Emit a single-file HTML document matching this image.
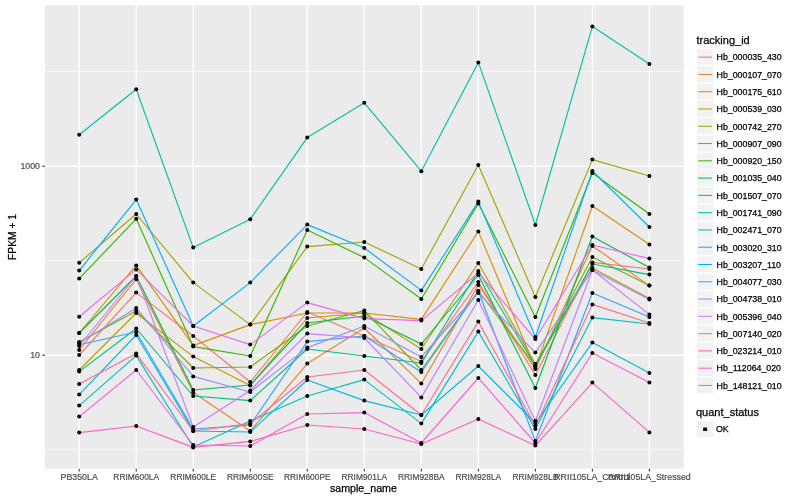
<!DOCTYPE html><html><head><meta charset="utf-8"><style>html,body{margin:0;padding:0;background:#fff;}svg{display:block;will-change:transform;}text{font-family:"Liberation Sans",sans-serif;}.d{stroke:#000;stroke-width:0.25px;}.g{stroke:#4D4D4D;stroke-width:0.2px;}</style></head><body>
<svg width="800" height="500" viewBox="0 0 800 500">
<rect x="0" y="0" width="800" height="500" fill="#fff"/>
<rect x="45.0" y="5.2" width="638.80" height="463.60" fill="#EBEBEB"/>
<line x1="45.0" y1="71.70" x2="683.8" y2="71.70" stroke="#fff" stroke-width="0.71"/>
<line x1="45.0" y1="260.70" x2="683.8" y2="260.70" stroke="#fff" stroke-width="0.71"/>
<line x1="45.0" y1="449.70" x2="683.8" y2="449.70" stroke="#fff" stroke-width="0.71"/>
<line x1="45.0" y1="166.20" x2="683.8" y2="166.20" stroke="#fff" stroke-width="1.42"/>
<line x1="45.0" y1="355.20" x2="683.8" y2="355.20" stroke="#fff" stroke-width="1.42"/>
<line x1="79.20" y1="5.2" x2="79.20" y2="468.8" stroke="#fff" stroke-width="1.42"/>
<line x1="136.22" y1="5.2" x2="136.22" y2="468.8" stroke="#fff" stroke-width="1.42"/>
<line x1="193.24" y1="5.2" x2="193.24" y2="468.8" stroke="#fff" stroke-width="1.42"/>
<line x1="250.26" y1="5.2" x2="250.26" y2="468.8" stroke="#fff" stroke-width="1.42"/>
<line x1="307.28" y1="5.2" x2="307.28" y2="468.8" stroke="#fff" stroke-width="1.42"/>
<line x1="364.30" y1="5.2" x2="364.30" y2="468.8" stroke="#fff" stroke-width="1.42"/>
<line x1="421.32" y1="5.2" x2="421.32" y2="468.8" stroke="#fff" stroke-width="1.42"/>
<line x1="478.34" y1="5.2" x2="478.34" y2="468.8" stroke="#fff" stroke-width="1.42"/>
<line x1="535.36" y1="5.2" x2="535.36" y2="468.8" stroke="#fff" stroke-width="1.42"/>
<line x1="592.38" y1="5.2" x2="592.38" y2="468.8" stroke="#fff" stroke-width="1.42"/>
<line x1="649.40" y1="5.2" x2="649.40" y2="468.8" stroke="#fff" stroke-width="1.42"/>
<polyline points="79.20,355.00 136.22,292.60 193.24,336.00 250.26,382.00 307.28,312.00 364.30,336.00 421.32,361.60 478.34,282.00 535.36,375.00 592.38,262.40 649.40,269.00" fill="none" stroke="#F8766D" stroke-width="1.15" stroke-linejoin="round"/>
<polyline points="79.20,350.00 136.22,279.20 193.24,392.50 250.26,431.00 307.28,363.60 364.30,328.00 421.32,383.60 478.34,285.00 535.36,369.00 592.38,246.00 649.40,285.60" fill="none" stroke="#EA8331" stroke-width="1.15" stroke-linejoin="round"/>
<polyline points="79.20,333.00 136.22,265.40 193.24,345.60 250.26,324.60 307.28,313.00 364.30,313.00 421.32,319.40 478.34,231.40 535.36,368.00 592.38,206.00 649.40,244.60" fill="none" stroke="#D89000" stroke-width="1.15" stroke-linejoin="round"/>
<polyline points="79.20,370.00 136.22,313.00 193.24,356.60 250.26,385.60 307.28,318.00 364.30,313.00 421.32,349.00 478.34,263.00 535.36,364.00 592.38,268.00 649.40,298.60" fill="none" stroke="#C09B00" stroke-width="1.15" stroke-linejoin="round"/>
<polyline points="79.20,262.80 136.22,214.00 193.24,282.60 250.26,324.60 307.28,246.60 364.30,242.00 421.32,269.00 478.34,165.00 535.36,297.00 592.38,159.60 649.40,176.00" fill="none" stroke="#A3A500" stroke-width="1.15" stroke-linejoin="round"/>
<polyline points="79.20,342.00 136.22,311.00 193.24,368.00 250.26,367.00 307.28,326.00 364.30,310.60 421.32,370.00 478.34,291.00 535.36,366.00 592.38,257.00 649.40,285.60" fill="none" stroke="#7CAE00" stroke-width="1.15" stroke-linejoin="round"/>
<polyline points="79.20,278.60 136.22,218.80 193.24,346.60 250.26,356.00 307.28,230.00 364.30,257.60 421.32,299.00 478.34,203.40 535.36,317.00 592.38,173.00 649.40,214.00" fill="none" stroke="#39B600" stroke-width="1.15" stroke-linejoin="round"/>
<polyline points="79.20,333.00 136.22,276.00 193.24,390.00 250.26,385.00 307.28,323.00 364.30,316.00 421.32,344.00 478.34,275.00 535.36,388.00 592.38,236.50 649.40,267.60" fill="none" stroke="#00BB4E" stroke-width="1.15" stroke-linejoin="round"/>
<polyline points="79.20,371.60 136.22,328.50 193.24,396.00 250.26,400.60 307.28,349.00 364.30,356.00 421.32,363.00 478.34,271.00 535.36,366.00 592.38,264.00 649.40,274.60" fill="none" stroke="#00BF7D" stroke-width="1.15" stroke-linejoin="round"/>
<polyline points="79.20,134.80 136.22,89.20 193.24,247.60 250.26,219.20 307.28,137.60 364.30,102.80 421.32,171.20 478.34,62.40 535.36,225.00 592.38,26.40 649.40,64.00" fill="none" stroke="#00C1A3" stroke-width="1.15" stroke-linejoin="round"/>
<polyline points="79.20,405.60 136.22,355.60 193.24,447.00 250.26,421.00 307.28,396.00 364.30,379.60 421.32,423.60 478.34,331.60 535.36,429.00 592.38,317.60 649.40,324.00" fill="none" stroke="#00BFC4" stroke-width="1.15" stroke-linejoin="round"/>
<polyline points="79.20,394.60 136.22,335.00 193.24,431.00 250.26,432.00 307.28,380.00 364.30,400.60 421.32,415.00 478.34,366.00 535.36,423.00 592.38,342.60 649.40,373.00" fill="none" stroke="#00BAE0" stroke-width="1.15" stroke-linejoin="round"/>
<polyline points="79.20,270.60 136.22,199.60 193.24,326.00 250.26,282.60 307.28,224.60 364.30,248.00 421.32,290.40 478.34,201.60 535.36,337.00 592.38,171.00 649.40,227.00" fill="none" stroke="#00B0F6" stroke-width="1.15" stroke-linejoin="round"/>
<polyline points="79.20,344.80 136.22,332.00 193.24,429.00 250.26,425.00 307.28,341.60 364.30,336.00 421.32,372.00 478.34,291.00 535.36,441.00 592.38,293.00 649.40,317.00" fill="none" stroke="#35A2FF" stroke-width="1.15" stroke-linejoin="round"/>
<polyline points="79.20,343.00 136.22,308.00 193.24,376.40 250.26,392.00 307.28,347.60 364.30,326.00 421.32,357.00 478.34,293.00 535.36,352.60 592.38,270.00 649.40,299.60" fill="none" stroke="#9590FF" stroke-width="1.15" stroke-linejoin="round"/>
<polyline points="79.20,346.00 136.22,276.00 193.24,427.00 250.26,390.40 307.28,333.60 364.30,338.00 421.32,397.40 478.34,300.00 535.36,421.00 592.38,270.00 649.40,314.40" fill="none" stroke="#C77CFF" stroke-width="1.15" stroke-linejoin="round"/>
<polyline points="79.20,316.80 136.22,269.40 193.24,326.00 250.26,344.60 307.28,302.60 364.30,318.60 421.32,320.60 478.34,273.00 535.36,339.00 592.38,245.00 649.40,258.60" fill="none" stroke="#E76BF3" stroke-width="1.15" stroke-linejoin="round"/>
<polyline points="79.20,416.60 136.22,370.00 193.24,445.00 250.26,446.00 307.28,414.00 364.30,412.60 421.32,443.00 478.34,378.00 535.36,443.00 592.38,353.00 649.40,382.60" fill="none" stroke="#FA62DB" stroke-width="1.15" stroke-linejoin="round"/>
<polyline points="79.20,432.60 136.22,426.00 193.24,447.40 250.26,441.40 307.28,425.00 364.30,429.00 421.32,444.00 478.34,419.00 535.36,445.60 592.38,382.60 649.40,432.40" fill="none" stroke="#FF62BC" stroke-width="1.15" stroke-linejoin="round"/>
<polyline points="79.20,384.00 136.22,353.60 193.24,431.00 250.26,423.60 307.28,377.00 364.30,370.00 421.32,415.00 478.34,321.60 535.36,426.00 592.38,304.40 649.40,323.00" fill="none" stroke="#FF6C91" stroke-width="1.15" stroke-linejoin="round"/>
<circle cx="79.20" cy="355.00" r="2.0" fill="#000"/>
<circle cx="136.22" cy="292.60" r="2.0" fill="#000"/>
<circle cx="193.24" cy="336.00" r="2.0" fill="#000"/>
<circle cx="250.26" cy="382.00" r="2.0" fill="#000"/>
<circle cx="307.28" cy="312.00" r="2.0" fill="#000"/>
<circle cx="364.30" cy="336.00" r="2.0" fill="#000"/>
<circle cx="421.32" cy="361.60" r="2.0" fill="#000"/>
<circle cx="478.34" cy="282.00" r="2.0" fill="#000"/>
<circle cx="535.36" cy="375.00" r="2.0" fill="#000"/>
<circle cx="592.38" cy="262.40" r="2.0" fill="#000"/>
<circle cx="649.40" cy="269.00" r="2.0" fill="#000"/>
<circle cx="79.20" cy="350.00" r="2.0" fill="#000"/>
<circle cx="136.22" cy="279.20" r="2.0" fill="#000"/>
<circle cx="193.24" cy="392.50" r="2.0" fill="#000"/>
<circle cx="250.26" cy="431.00" r="2.0" fill="#000"/>
<circle cx="307.28" cy="363.60" r="2.0" fill="#000"/>
<circle cx="364.30" cy="328.00" r="2.0" fill="#000"/>
<circle cx="421.32" cy="383.60" r="2.0" fill="#000"/>
<circle cx="478.34" cy="285.00" r="2.0" fill="#000"/>
<circle cx="535.36" cy="369.00" r="2.0" fill="#000"/>
<circle cx="592.38" cy="246.00" r="2.0" fill="#000"/>
<circle cx="649.40" cy="285.60" r="2.0" fill="#000"/>
<circle cx="79.20" cy="333.00" r="2.0" fill="#000"/>
<circle cx="136.22" cy="265.40" r="2.0" fill="#000"/>
<circle cx="193.24" cy="345.60" r="2.0" fill="#000"/>
<circle cx="250.26" cy="324.60" r="2.0" fill="#000"/>
<circle cx="307.28" cy="313.00" r="2.0" fill="#000"/>
<circle cx="364.30" cy="313.00" r="2.0" fill="#000"/>
<circle cx="421.32" cy="319.40" r="2.0" fill="#000"/>
<circle cx="478.34" cy="231.40" r="2.0" fill="#000"/>
<circle cx="535.36" cy="368.00" r="2.0" fill="#000"/>
<circle cx="592.38" cy="206.00" r="2.0" fill="#000"/>
<circle cx="649.40" cy="244.60" r="2.0" fill="#000"/>
<circle cx="79.20" cy="370.00" r="2.0" fill="#000"/>
<circle cx="136.22" cy="313.00" r="2.0" fill="#000"/>
<circle cx="193.24" cy="356.60" r="2.0" fill="#000"/>
<circle cx="250.26" cy="385.60" r="2.0" fill="#000"/>
<circle cx="307.28" cy="318.00" r="2.0" fill="#000"/>
<circle cx="364.30" cy="313.00" r="2.0" fill="#000"/>
<circle cx="421.32" cy="349.00" r="2.0" fill="#000"/>
<circle cx="478.34" cy="263.00" r="2.0" fill="#000"/>
<circle cx="535.36" cy="364.00" r="2.0" fill="#000"/>
<circle cx="592.38" cy="268.00" r="2.0" fill="#000"/>
<circle cx="649.40" cy="298.60" r="2.0" fill="#000"/>
<circle cx="79.20" cy="262.80" r="2.0" fill="#000"/>
<circle cx="136.22" cy="214.00" r="2.0" fill="#000"/>
<circle cx="193.24" cy="282.60" r="2.0" fill="#000"/>
<circle cx="250.26" cy="324.60" r="2.0" fill="#000"/>
<circle cx="307.28" cy="246.60" r="2.0" fill="#000"/>
<circle cx="364.30" cy="242.00" r="2.0" fill="#000"/>
<circle cx="421.32" cy="269.00" r="2.0" fill="#000"/>
<circle cx="478.34" cy="165.00" r="2.0" fill="#000"/>
<circle cx="535.36" cy="297.00" r="2.0" fill="#000"/>
<circle cx="592.38" cy="159.60" r="2.0" fill="#000"/>
<circle cx="649.40" cy="176.00" r="2.0" fill="#000"/>
<circle cx="79.20" cy="342.00" r="2.0" fill="#000"/>
<circle cx="136.22" cy="311.00" r="2.0" fill="#000"/>
<circle cx="193.24" cy="368.00" r="2.0" fill="#000"/>
<circle cx="250.26" cy="367.00" r="2.0" fill="#000"/>
<circle cx="307.28" cy="326.00" r="2.0" fill="#000"/>
<circle cx="364.30" cy="310.60" r="2.0" fill="#000"/>
<circle cx="421.32" cy="370.00" r="2.0" fill="#000"/>
<circle cx="478.34" cy="291.00" r="2.0" fill="#000"/>
<circle cx="535.36" cy="366.00" r="2.0" fill="#000"/>
<circle cx="592.38" cy="257.00" r="2.0" fill="#000"/>
<circle cx="649.40" cy="285.60" r="2.0" fill="#000"/>
<circle cx="79.20" cy="278.60" r="2.0" fill="#000"/>
<circle cx="136.22" cy="218.80" r="2.0" fill="#000"/>
<circle cx="193.24" cy="346.60" r="2.0" fill="#000"/>
<circle cx="250.26" cy="356.00" r="2.0" fill="#000"/>
<circle cx="307.28" cy="230.00" r="2.0" fill="#000"/>
<circle cx="364.30" cy="257.60" r="2.0" fill="#000"/>
<circle cx="421.32" cy="299.00" r="2.0" fill="#000"/>
<circle cx="478.34" cy="203.40" r="2.0" fill="#000"/>
<circle cx="535.36" cy="317.00" r="2.0" fill="#000"/>
<circle cx="592.38" cy="173.00" r="2.0" fill="#000"/>
<circle cx="649.40" cy="214.00" r="2.0" fill="#000"/>
<circle cx="79.20" cy="333.00" r="2.0" fill="#000"/>
<circle cx="136.22" cy="276.00" r="2.0" fill="#000"/>
<circle cx="193.24" cy="390.00" r="2.0" fill="#000"/>
<circle cx="250.26" cy="385.00" r="2.0" fill="#000"/>
<circle cx="307.28" cy="323.00" r="2.0" fill="#000"/>
<circle cx="364.30" cy="316.00" r="2.0" fill="#000"/>
<circle cx="421.32" cy="344.00" r="2.0" fill="#000"/>
<circle cx="478.34" cy="275.00" r="2.0" fill="#000"/>
<circle cx="535.36" cy="388.00" r="2.0" fill="#000"/>
<circle cx="592.38" cy="236.50" r="2.0" fill="#000"/>
<circle cx="649.40" cy="267.60" r="2.0" fill="#000"/>
<circle cx="79.20" cy="371.60" r="2.0" fill="#000"/>
<circle cx="136.22" cy="328.50" r="2.0" fill="#000"/>
<circle cx="193.24" cy="396.00" r="2.0" fill="#000"/>
<circle cx="250.26" cy="400.60" r="2.0" fill="#000"/>
<circle cx="307.28" cy="349.00" r="2.0" fill="#000"/>
<circle cx="364.30" cy="356.00" r="2.0" fill="#000"/>
<circle cx="421.32" cy="363.00" r="2.0" fill="#000"/>
<circle cx="478.34" cy="271.00" r="2.0" fill="#000"/>
<circle cx="535.36" cy="366.00" r="2.0" fill="#000"/>
<circle cx="592.38" cy="264.00" r="2.0" fill="#000"/>
<circle cx="649.40" cy="274.60" r="2.0" fill="#000"/>
<circle cx="79.20" cy="134.80" r="2.0" fill="#000"/>
<circle cx="136.22" cy="89.20" r="2.0" fill="#000"/>
<circle cx="193.24" cy="247.60" r="2.0" fill="#000"/>
<circle cx="250.26" cy="219.20" r="2.0" fill="#000"/>
<circle cx="307.28" cy="137.60" r="2.0" fill="#000"/>
<circle cx="364.30" cy="102.80" r="2.0" fill="#000"/>
<circle cx="421.32" cy="171.20" r="2.0" fill="#000"/>
<circle cx="478.34" cy="62.40" r="2.0" fill="#000"/>
<circle cx="535.36" cy="225.00" r="2.0" fill="#000"/>
<circle cx="592.38" cy="26.40" r="2.0" fill="#000"/>
<circle cx="649.40" cy="64.00" r="2.0" fill="#000"/>
<circle cx="79.20" cy="405.60" r="2.0" fill="#000"/>
<circle cx="136.22" cy="355.60" r="2.0" fill="#000"/>
<circle cx="193.24" cy="447.00" r="2.0" fill="#000"/>
<circle cx="250.26" cy="421.00" r="2.0" fill="#000"/>
<circle cx="307.28" cy="396.00" r="2.0" fill="#000"/>
<circle cx="364.30" cy="379.60" r="2.0" fill="#000"/>
<circle cx="421.32" cy="423.60" r="2.0" fill="#000"/>
<circle cx="478.34" cy="331.60" r="2.0" fill="#000"/>
<circle cx="535.36" cy="429.00" r="2.0" fill="#000"/>
<circle cx="592.38" cy="317.60" r="2.0" fill="#000"/>
<circle cx="649.40" cy="324.00" r="2.0" fill="#000"/>
<circle cx="79.20" cy="394.60" r="2.0" fill="#000"/>
<circle cx="136.22" cy="335.00" r="2.0" fill="#000"/>
<circle cx="193.24" cy="431.00" r="2.0" fill="#000"/>
<circle cx="250.26" cy="432.00" r="2.0" fill="#000"/>
<circle cx="307.28" cy="380.00" r="2.0" fill="#000"/>
<circle cx="364.30" cy="400.60" r="2.0" fill="#000"/>
<circle cx="421.32" cy="415.00" r="2.0" fill="#000"/>
<circle cx="478.34" cy="366.00" r="2.0" fill="#000"/>
<circle cx="535.36" cy="423.00" r="2.0" fill="#000"/>
<circle cx="592.38" cy="342.60" r="2.0" fill="#000"/>
<circle cx="649.40" cy="373.00" r="2.0" fill="#000"/>
<circle cx="79.20" cy="270.60" r="2.0" fill="#000"/>
<circle cx="136.22" cy="199.60" r="2.0" fill="#000"/>
<circle cx="193.24" cy="326.00" r="2.0" fill="#000"/>
<circle cx="250.26" cy="282.60" r="2.0" fill="#000"/>
<circle cx="307.28" cy="224.60" r="2.0" fill="#000"/>
<circle cx="364.30" cy="248.00" r="2.0" fill="#000"/>
<circle cx="421.32" cy="290.40" r="2.0" fill="#000"/>
<circle cx="478.34" cy="201.60" r="2.0" fill="#000"/>
<circle cx="535.36" cy="337.00" r="2.0" fill="#000"/>
<circle cx="592.38" cy="171.00" r="2.0" fill="#000"/>
<circle cx="649.40" cy="227.00" r="2.0" fill="#000"/>
<circle cx="79.20" cy="344.80" r="2.0" fill="#000"/>
<circle cx="136.22" cy="332.00" r="2.0" fill="#000"/>
<circle cx="193.24" cy="429.00" r="2.0" fill="#000"/>
<circle cx="250.26" cy="425.00" r="2.0" fill="#000"/>
<circle cx="307.28" cy="341.60" r="2.0" fill="#000"/>
<circle cx="364.30" cy="336.00" r="2.0" fill="#000"/>
<circle cx="421.32" cy="372.00" r="2.0" fill="#000"/>
<circle cx="478.34" cy="291.00" r="2.0" fill="#000"/>
<circle cx="535.36" cy="441.00" r="2.0" fill="#000"/>
<circle cx="592.38" cy="293.00" r="2.0" fill="#000"/>
<circle cx="649.40" cy="317.00" r="2.0" fill="#000"/>
<circle cx="79.20" cy="343.00" r="2.0" fill="#000"/>
<circle cx="136.22" cy="308.00" r="2.0" fill="#000"/>
<circle cx="193.24" cy="376.40" r="2.0" fill="#000"/>
<circle cx="250.26" cy="392.00" r="2.0" fill="#000"/>
<circle cx="307.28" cy="347.60" r="2.0" fill="#000"/>
<circle cx="364.30" cy="326.00" r="2.0" fill="#000"/>
<circle cx="421.32" cy="357.00" r="2.0" fill="#000"/>
<circle cx="478.34" cy="293.00" r="2.0" fill="#000"/>
<circle cx="535.36" cy="352.60" r="2.0" fill="#000"/>
<circle cx="592.38" cy="270.00" r="2.0" fill="#000"/>
<circle cx="649.40" cy="299.60" r="2.0" fill="#000"/>
<circle cx="79.20" cy="346.00" r="2.0" fill="#000"/>
<circle cx="136.22" cy="276.00" r="2.0" fill="#000"/>
<circle cx="193.24" cy="427.00" r="2.0" fill="#000"/>
<circle cx="250.26" cy="390.40" r="2.0" fill="#000"/>
<circle cx="307.28" cy="333.60" r="2.0" fill="#000"/>
<circle cx="364.30" cy="338.00" r="2.0" fill="#000"/>
<circle cx="421.32" cy="397.40" r="2.0" fill="#000"/>
<circle cx="478.34" cy="300.00" r="2.0" fill="#000"/>
<circle cx="535.36" cy="421.00" r="2.0" fill="#000"/>
<circle cx="592.38" cy="270.00" r="2.0" fill="#000"/>
<circle cx="649.40" cy="314.40" r="2.0" fill="#000"/>
<circle cx="79.20" cy="316.80" r="2.0" fill="#000"/>
<circle cx="136.22" cy="269.40" r="2.0" fill="#000"/>
<circle cx="193.24" cy="326.00" r="2.0" fill="#000"/>
<circle cx="250.26" cy="344.60" r="2.0" fill="#000"/>
<circle cx="307.28" cy="302.60" r="2.0" fill="#000"/>
<circle cx="364.30" cy="318.60" r="2.0" fill="#000"/>
<circle cx="421.32" cy="320.60" r="2.0" fill="#000"/>
<circle cx="478.34" cy="273.00" r="2.0" fill="#000"/>
<circle cx="535.36" cy="339.00" r="2.0" fill="#000"/>
<circle cx="592.38" cy="245.00" r="2.0" fill="#000"/>
<circle cx="649.40" cy="258.60" r="2.0" fill="#000"/>
<circle cx="79.20" cy="416.60" r="2.0" fill="#000"/>
<circle cx="136.22" cy="370.00" r="2.0" fill="#000"/>
<circle cx="193.24" cy="445.00" r="2.0" fill="#000"/>
<circle cx="250.26" cy="446.00" r="2.0" fill="#000"/>
<circle cx="307.28" cy="414.00" r="2.0" fill="#000"/>
<circle cx="364.30" cy="412.60" r="2.0" fill="#000"/>
<circle cx="421.32" cy="443.00" r="2.0" fill="#000"/>
<circle cx="478.34" cy="378.00" r="2.0" fill="#000"/>
<circle cx="535.36" cy="443.00" r="2.0" fill="#000"/>
<circle cx="592.38" cy="353.00" r="2.0" fill="#000"/>
<circle cx="649.40" cy="382.60" r="2.0" fill="#000"/>
<circle cx="79.20" cy="432.60" r="2.0" fill="#000"/>
<circle cx="136.22" cy="426.00" r="2.0" fill="#000"/>
<circle cx="193.24" cy="447.40" r="2.0" fill="#000"/>
<circle cx="250.26" cy="441.40" r="2.0" fill="#000"/>
<circle cx="307.28" cy="425.00" r="2.0" fill="#000"/>
<circle cx="364.30" cy="429.00" r="2.0" fill="#000"/>
<circle cx="421.32" cy="444.00" r="2.0" fill="#000"/>
<circle cx="478.34" cy="419.00" r="2.0" fill="#000"/>
<circle cx="535.36" cy="445.60" r="2.0" fill="#000"/>
<circle cx="592.38" cy="382.60" r="2.0" fill="#000"/>
<circle cx="649.40" cy="432.40" r="2.0" fill="#000"/>
<circle cx="79.20" cy="384.00" r="2.0" fill="#000"/>
<circle cx="136.22" cy="353.60" r="2.0" fill="#000"/>
<circle cx="193.24" cy="431.00" r="2.0" fill="#000"/>
<circle cx="250.26" cy="423.60" r="2.0" fill="#000"/>
<circle cx="307.28" cy="377.00" r="2.0" fill="#000"/>
<circle cx="364.30" cy="370.00" r="2.0" fill="#000"/>
<circle cx="421.32" cy="415.00" r="2.0" fill="#000"/>
<circle cx="478.34" cy="321.60" r="2.0" fill="#000"/>
<circle cx="535.36" cy="426.00" r="2.0" fill="#000"/>
<circle cx="592.38" cy="304.40" r="2.0" fill="#000"/>
<circle cx="649.40" cy="323.00" r="2.0" fill="#000"/>
<line x1="79.20" y1="468.8" x2="79.20" y2="471.54" stroke="#333" stroke-width="1.07"/>
<line x1="136.22" y1="468.8" x2="136.22" y2="471.54" stroke="#333" stroke-width="1.07"/>
<line x1="193.24" y1="468.8" x2="193.24" y2="471.54" stroke="#333" stroke-width="1.07"/>
<line x1="250.26" y1="468.8" x2="250.26" y2="471.54" stroke="#333" stroke-width="1.07"/>
<line x1="307.28" y1="468.8" x2="307.28" y2="471.54" stroke="#333" stroke-width="1.07"/>
<line x1="364.30" y1="468.8" x2="364.30" y2="471.54" stroke="#333" stroke-width="1.07"/>
<line x1="421.32" y1="468.8" x2="421.32" y2="471.54" stroke="#333" stroke-width="1.07"/>
<line x1="478.34" y1="468.8" x2="478.34" y2="471.54" stroke="#333" stroke-width="1.07"/>
<line x1="535.36" y1="468.8" x2="535.36" y2="471.54" stroke="#333" stroke-width="1.07"/>
<line x1="592.38" y1="468.8" x2="592.38" y2="471.54" stroke="#333" stroke-width="1.07"/>
<line x1="649.40" y1="468.8" x2="649.40" y2="471.54" stroke="#333" stroke-width="1.07"/>
<line x1="42.26" y1="166.20" x2="45.0" y2="166.20" stroke="#333" stroke-width="1.07"/>
<line x1="42.26" y1="355.20" x2="45.0" y2="355.20" stroke="#333" stroke-width="1.07"/>
<text x="79.20" y="480" font-size="8.8" fill="#4D4D4D" text-anchor="middle" class="g">PB350LA</text>
<text x="136.22" y="480" font-size="8.8" fill="#4D4D4D" text-anchor="middle" class="g" textLength="45.78" lengthAdjust="spacingAndGlyphs">RRIM600LA</text>
<text x="193.24" y="480" font-size="8.8" fill="#4D4D4D" text-anchor="middle" class="g" textLength="45.78" lengthAdjust="spacingAndGlyphs">RRIM600LE</text>
<text x="250.26" y="480" font-size="8.8" fill="#4D4D4D" text-anchor="middle" class="g" textLength="46.71" lengthAdjust="spacingAndGlyphs">RRIM600SE</text>
<text x="307.28" y="480" font-size="8.8" fill="#4D4D4D" text-anchor="middle" class="g" textLength="46.71" lengthAdjust="spacingAndGlyphs">RRIM600PE</text>
<text x="364.30" y="480" font-size="8.8" fill="#4D4D4D" text-anchor="middle" class="g" textLength="45.78" lengthAdjust="spacingAndGlyphs">RRIM901LA</text>
<text x="421.32" y="480" font-size="8.8" fill="#4D4D4D" text-anchor="middle" class="g" textLength="46.71" lengthAdjust="spacingAndGlyphs">RRIM928BA</text>
<text x="478.34" y="480" font-size="8.8" fill="#4D4D4D" text-anchor="middle" class="g" textLength="45.78" lengthAdjust="spacingAndGlyphs">RRIM928LA</text>
<text x="535.36" y="480" font-size="8.8" fill="#4D4D4D" text-anchor="middle" class="g" textLength="45.78" lengthAdjust="spacingAndGlyphs">RRIM928LB</text>
<text x="592.38" y="480" font-size="8.8" fill="#4D4D4D" text-anchor="middle" class="g">RRII105LA_Control</text>
<text x="649.40" y="480" font-size="8.8" fill="#4D4D4D" text-anchor="middle" class="g">RRII105LA_Stressed</text>
<text x="40" y="169.30" font-size="8.8" fill="#4D4D4D" text-anchor="end" class="g">1000</text>
<text x="40" y="358.30" font-size="8.8" fill="#4D4D4D" text-anchor="end" class="g">10</text>
<text x="363.4" y="491.8" font-size="11" fill="#000" text-anchor="middle" class="d" textLength="67" lengthAdjust="spacingAndGlyphs">sample_name</text>
<text transform="translate(16.3,237.00) rotate(-90)" x="0" y="0" font-size="11" fill="#000" text-anchor="middle" class="d" textLength="45.8" lengthAdjust="spacingAndGlyphs">FPKM + 1</text>
<text x="696.5" y="43.7" font-size="11" fill="#000" class="d">tracking_id</text>
<rect x="696.50" y="48.50" width="17.28" height="17.28" fill="#F2F2F2" stroke="#fff" stroke-width="1.07"/>
<line x1="698.23" y1="57.14" x2="712.05" y2="57.14" stroke="#F8766D" stroke-width="1.05"/>
<text x="716.6" y="60.44" font-size="8.8" fill="#000" class="d">Hb_000035_430</text>
<rect x="696.50" y="65.78" width="17.28" height="17.28" fill="#F2F2F2" stroke="#fff" stroke-width="1.07"/>
<line x1="698.23" y1="74.42" x2="712.05" y2="74.42" stroke="#EA8331" stroke-width="1.05"/>
<text x="716.6" y="77.72" font-size="8.8" fill="#000" class="d">Hb_000107_070</text>
<rect x="696.50" y="83.06" width="17.28" height="17.28" fill="#F2F2F2" stroke="#fff" stroke-width="1.07"/>
<line x1="698.23" y1="91.70" x2="712.05" y2="91.70" stroke="#D89000" stroke-width="1.05"/>
<text x="716.6" y="95.00" font-size="8.8" fill="#000" class="d">Hb_000175_610</text>
<rect x="696.50" y="100.34" width="17.28" height="17.28" fill="#F2F2F2" stroke="#fff" stroke-width="1.07"/>
<line x1="698.23" y1="108.98" x2="712.05" y2="108.98" stroke="#C09B00" stroke-width="1.05"/>
<text x="716.6" y="112.28" font-size="8.8" fill="#000" class="d">Hb_000539_030</text>
<rect x="696.50" y="117.62" width="17.28" height="17.28" fill="#F2F2F2" stroke="#fff" stroke-width="1.07"/>
<line x1="698.23" y1="126.26" x2="712.05" y2="126.26" stroke="#A3A500" stroke-width="1.05"/>
<text x="716.6" y="129.56" font-size="8.8" fill="#000" class="d">Hb_000742_270</text>
<rect x="696.50" y="134.90" width="17.28" height="17.28" fill="#F2F2F2" stroke="#fff" stroke-width="1.07"/>
<line x1="698.23" y1="143.54" x2="712.05" y2="143.54" stroke="#7CAE00" stroke-width="1.05"/>
<text x="716.6" y="146.84" font-size="8.8" fill="#000" class="d">Hb_000907_090</text>
<rect x="696.50" y="152.18" width="17.28" height="17.28" fill="#F2F2F2" stroke="#fff" stroke-width="1.07"/>
<line x1="698.23" y1="160.82" x2="712.05" y2="160.82" stroke="#39B600" stroke-width="1.05"/>
<text x="716.6" y="164.12" font-size="8.8" fill="#000" class="d">Hb_000920_150</text>
<rect x="696.50" y="169.46" width="17.28" height="17.28" fill="#F2F2F2" stroke="#fff" stroke-width="1.07"/>
<line x1="698.23" y1="178.10" x2="712.05" y2="178.10" stroke="#00BB4E" stroke-width="1.05"/>
<text x="716.6" y="181.40" font-size="8.8" fill="#000" class="d">Hb_001035_040</text>
<rect x="696.50" y="186.74" width="17.28" height="17.28" fill="#F2F2F2" stroke="#fff" stroke-width="1.07"/>
<line x1="698.23" y1="195.38" x2="712.05" y2="195.38" stroke="#00BF7D" stroke-width="1.05"/>
<text x="716.6" y="198.68" font-size="8.8" fill="#000" class="d">Hb_001507_070</text>
<rect x="696.50" y="204.02" width="17.28" height="17.28" fill="#F2F2F2" stroke="#fff" stroke-width="1.07"/>
<line x1="698.23" y1="212.66" x2="712.05" y2="212.66" stroke="#00C1A3" stroke-width="1.05"/>
<text x="716.6" y="215.96" font-size="8.8" fill="#000" class="d">Hb_001741_090</text>
<rect x="696.50" y="221.30" width="17.28" height="17.28" fill="#F2F2F2" stroke="#fff" stroke-width="1.07"/>
<line x1="698.23" y1="229.94" x2="712.05" y2="229.94" stroke="#00BFC4" stroke-width="1.05"/>
<text x="716.6" y="233.24" font-size="8.8" fill="#000" class="d">Hb_002471_070</text>
<rect x="696.50" y="238.58" width="17.28" height="17.28" fill="#F2F2F2" stroke="#fff" stroke-width="1.07"/>
<line x1="698.23" y1="247.22" x2="712.05" y2="247.22" stroke="#00BAE0" stroke-width="1.05"/>
<text x="716.6" y="250.52" font-size="8.8" fill="#000" class="d">Hb_003020_310</text>
<rect x="696.50" y="255.86" width="17.28" height="17.28" fill="#F2F2F2" stroke="#fff" stroke-width="1.07"/>
<line x1="698.23" y1="264.50" x2="712.05" y2="264.50" stroke="#00B0F6" stroke-width="1.05"/>
<text x="716.6" y="267.80" font-size="8.8" fill="#000" class="d">Hb_003207_110</text>
<rect x="696.50" y="273.14" width="17.28" height="17.28" fill="#F2F2F2" stroke="#fff" stroke-width="1.07"/>
<line x1="698.23" y1="281.78" x2="712.05" y2="281.78" stroke="#35A2FF" stroke-width="1.05"/>
<text x="716.6" y="285.08" font-size="8.8" fill="#000" class="d">Hb_004077_030</text>
<rect x="696.50" y="290.42" width="17.28" height="17.28" fill="#F2F2F2" stroke="#fff" stroke-width="1.07"/>
<line x1="698.23" y1="299.06" x2="712.05" y2="299.06" stroke="#9590FF" stroke-width="1.05"/>
<text x="716.6" y="302.36" font-size="8.8" fill="#000" class="d">Hb_004738_010</text>
<rect x="696.50" y="307.70" width="17.28" height="17.28" fill="#F2F2F2" stroke="#fff" stroke-width="1.07"/>
<line x1="698.23" y1="316.34" x2="712.05" y2="316.34" stroke="#C77CFF" stroke-width="1.05"/>
<text x="716.6" y="319.64" font-size="8.8" fill="#000" class="d">Hb_005396_040</text>
<rect x="696.50" y="324.98" width="17.28" height="17.28" fill="#F2F2F2" stroke="#fff" stroke-width="1.07"/>
<line x1="698.23" y1="333.62" x2="712.05" y2="333.62" stroke="#E76BF3" stroke-width="1.05"/>
<text x="716.6" y="336.92" font-size="8.8" fill="#000" class="d">Hb_007140_020</text>
<rect x="696.50" y="342.26" width="17.28" height="17.28" fill="#F2F2F2" stroke="#fff" stroke-width="1.07"/>
<line x1="698.23" y1="350.90" x2="712.05" y2="350.90" stroke="#FA62DB" stroke-width="1.05"/>
<text x="716.6" y="354.20" font-size="8.8" fill="#000" class="d">Hb_023214_010</text>
<rect x="696.50" y="359.54" width="17.28" height="17.28" fill="#F2F2F2" stroke="#fff" stroke-width="1.07"/>
<line x1="698.23" y1="368.18" x2="712.05" y2="368.18" stroke="#FF62BC" stroke-width="1.05"/>
<text x="716.6" y="371.48" font-size="8.8" fill="#000" class="d">Hb_112064_020</text>
<rect x="696.50" y="376.82" width="17.28" height="17.28" fill="#F2F2F2" stroke="#fff" stroke-width="1.07"/>
<line x1="698.23" y1="385.46" x2="712.05" y2="385.46" stroke="#FF6C91" stroke-width="1.05"/>
<text x="716.6" y="388.76" font-size="8.8" fill="#000" class="d">Hb_148121_010</text>
<text x="696.0" y="415.7" font-size="11" fill="#000" class="d">quant_status</text>
<rect x="696.50" y="420.60" width="17.28" height="17.28" fill="#F2F2F2" stroke="#fff" stroke-width="1.07"/>
<rect x="703.14" y="427.44" width="4" height="3.6" rx="0.6" fill="#000"/>
<text x="716.0" y="432.34" font-size="8.8" fill="#000" class="d">OK</text>
</svg></body></html>
